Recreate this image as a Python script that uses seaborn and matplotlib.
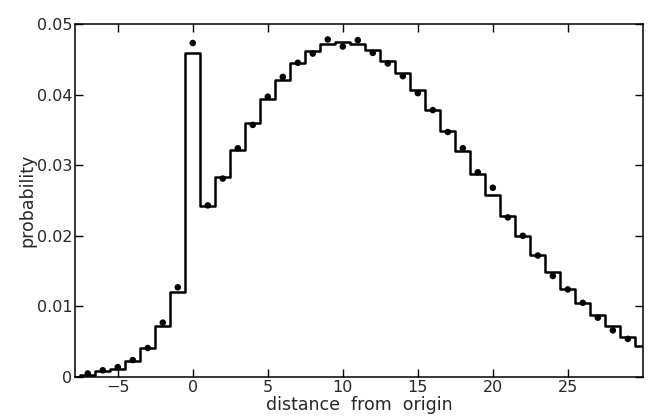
import numpy as np
import pandas as pd
import matplotlib
matplotlib.use("Agg")
import matplotlib.pyplot as plt
import seaborn as sns

# Histogram (step) values, bins of width 1 centred on integers
bin_centers = list(range(-8, 31))
bin_heights = [0.0, 0.0003, 0.0009, 0.0012, 0.0023, 0.0041, 0.0072, 0.0121,
               0.0459, 0.0242, 0.0283, 0.0322, 0.0360, 0.0393, 0.0421, 0.0444,
               0.0461, 0.0472, 0.0475, 0.0471, 0.0463, 0.0447, 0.0430, 0.0406,
               0.0378, 0.0348, 0.0320, 0.0288, 0.0258, 0.0228, 0.0200, 0.0173,
               0.0149, 0.0125, 0.0105, 0.0088, 0.0072, 0.0056, 0.0044]

# Dots
dot_x = list(range(-7, 30))
dot_y = [0.0005, 0.00095, 0.0014, 0.0024, 0.0041, 0.0077, 0.0127, 0.0473,
         0.0243, 0.0281, 0.0324, 0.0357, 0.0397, 0.0425, 0.0445, 0.0458,
         0.0478, 0.0468, 0.0477, 0.0459, 0.0444, 0.0426, 0.0402, 0.0378,
         0.0347, 0.0324, 0.0290, 0.0268, 0.0226, 0.0200, 0.0172, 0.0143,
         0.0124, 0.0105, 0.0084, 0.0066, 0.0054]

x_ticks = [-5, 0, 5, 10, 15, 20, 25]
y_ticks = [0, 0.01, 0.02, 0.03, 0.04, 0.05]
y_tick_labels = ["0", "0.01", "0.02", "0.03", "0.04", "0.05"]

sns.set_style("ticks")
plt.rcParams['font.family'] = ['DejaVu Sans']

fig = plt.figure(figsize=(6.5, 4.2), dpi=100)
ax = fig.add_axes([0.1154, 0.1024, 0.8736, 0.8406])

hist_df = pd.DataFrame({"x": bin_centers, "w": bin_heights})
sns.histplot(data=hist_df, x="x", weights="w", discrete=True, element="step",
             fill=False, color="black", linewidth=1.8, ax=ax)

dot_df = pd.DataFrame({"x": dot_x, "y": dot_y})
sns.scatterplot(data=dot_df, x="x", y="y", color="black", s=22,
                edgecolor="none", ax=ax, zorder=3)

ax.set_xlim(-7.85, 30.0)
ax.set_ylim(0, 0.05)
ax.set_xticks(x_ticks)
ax.set_yticks(y_ticks)
ax.set_yticklabels(y_tick_labels)
ax.tick_params(direction="in", length=6, width=1.0, top=True, right=True,
               labeltop=False, labelright=False, labelsize=11.5, pad=2,
               color="black")
for s in ax.spines.values():
    s.set_linewidth(1.1)
    s.set_color("black")
ax.set_xlabel("distance  from  origin", fontsize=12.5, labelpad=1)
ax.set_ylabel("probability", fontsize=12.5, labelpad=0)

fig.savefig("out.png", dpi=100)
